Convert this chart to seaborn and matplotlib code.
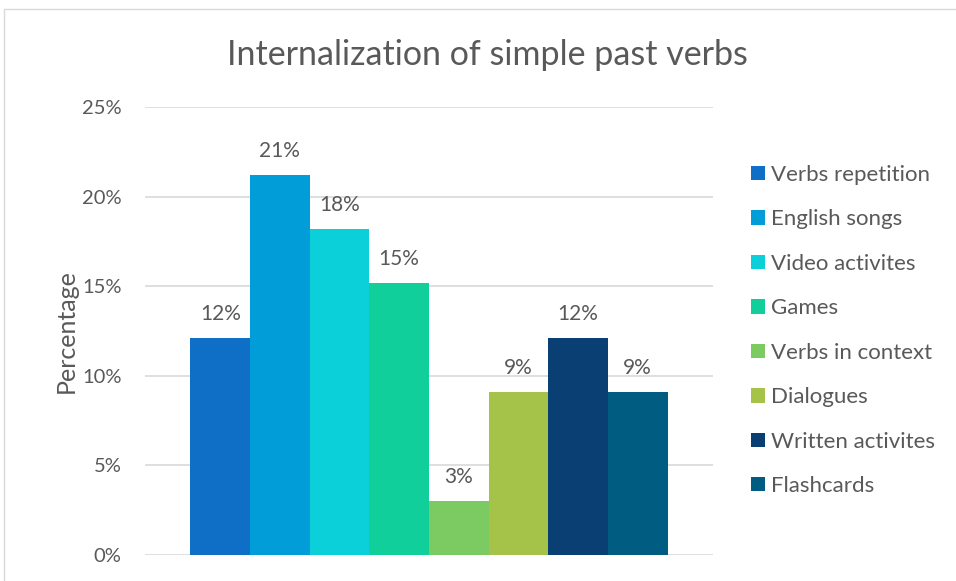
import pandas as pd
import numpy as np
import matplotlib.pyplot as plt
import seaborn as sns
from matplotlib.patches import Rectangle
from matplotlib.ticker import PercentFormatter

# ── data ─────────────────────────────────────────────────────
methods = ['Verbs repetition', 'English songs', 'Video activites', 'Games',
           'Verbs in context', 'Dialogues', 'Written activites', 'Flashcards']
percent = [12.1, 21.2, 18.2, 15.2, 3.0, 9.1, 12.1, 9.1]
colors = ['#0F6FC6', '#009DD9', '#0BD0D9', '#10CF9B',
          '#7CCA62', '#A5C249', '#0A3F74', '#005C80']

df = pd.DataFrame({'grp': [''] * len(methods), 'method': methods, 'pct': percent})

sns.set_theme(style='white')
plt.rcParams['font.family'] = ['Lato', 'DejaVu Sans']
txt = '#595959'

fig = plt.figure(figsize=(9.56, 5.81), dpi=100)
ax = fig.add_axes([145 / 956, 1 - 555 / 581, (713 - 145) / 956, (555 - 107) / 581])

sns.barplot(data=df, x='grp', y='pct', hue='method', hue_order=methods,
            palette=colors, width=0.84, saturation=1, linewidth=0,
            ax=ax, legend=True)

for bars in ax.containers:
    ax.bar_label(bars, labels=[f'{v:.0f}%' for v in bars.datavalues],
                 padding=10, fontsize=15, color=txt)

ax.set_xlim(-0.5, 0.5)
ax.set_ylim(0, 25)
ax.set_yticks(np.arange(0, 26, 5))
ax.yaxis.set_major_formatter(PercentFormatter(decimals=0))
ax.grid(axis='y', color='#D9D9D9', linewidth=1.2)
ax.set_axisbelow(True)
for s in ax.spines.values():
    s.set_visible(False)
ax.set_xticks([])
ax.set_xlabel('')
ax.set_ylabel('Percentage', fontsize=18, color=txt, labelpad=3)
ax.tick_params(axis='y', labelsize=14.5, labelcolor=txt, length=0, pad=17)

leg = ax.legend(loc='upper left', bbox_to_anchor=(751 / 956, 1 - 165 / 581),
                bbox_transform=fig.transFigure, frameon=False, fontsize=16,
                handlelength=0.62, handleheight=0.62, handletextpad=0.3,
                labelspacing=1.1, borderaxespad=0, borderpad=0)
for t in leg.get_texts():
    t.set_color(txt)

fig.text(487 / 956, 1 - 55 / 581, 'Internalization of simple past verbs',
         ha='center', va='center', fontsize=24.5, color=txt)

fig.patches.append(Rectangle((4 / 956, -0.01), 1, 1 - 9 / 581 + 0.01,
                             transform=fig.transFigure, fill=False,
                             edgecolor='#D9D9D9', linewidth=1))

fig.savefig('out.png', dpi=100)
